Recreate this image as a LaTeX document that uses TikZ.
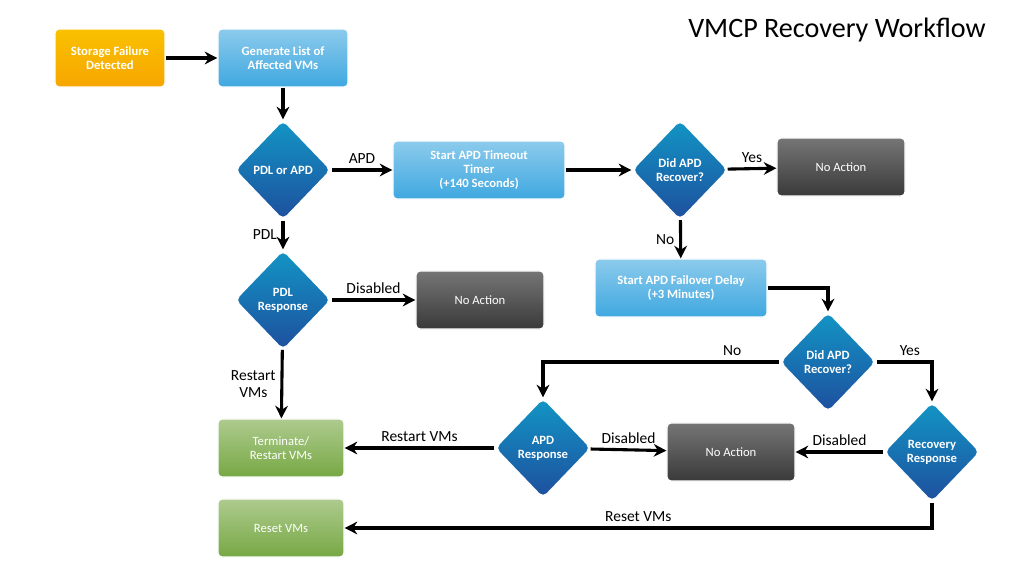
\documentclass[tikz,border=0pt]{standalone}
\usepackage{fontspec}
\setmainfont{Carlito}
\usetikzlibrary{shapes.geometric,arrows.meta,positioning}
\definecolor{orng}{HTML}{F7A600}
\definecolor{lblue}{HTML}{3FA8E0}
\definecolor{dblue}{HTML}{1E4F9E}
\definecolor{dgray}{HTML}{3A3A3A}
\definecolor{grn}{HTML}{77A843}
\tikzset{
	box/.style={rectangle,rounded corners=3pt,draw=white,line width=0.8pt,text=white,font=\bfseries\fontsize{9}{10}\selectfont,align=center,minimum height=1.45cm},
	start/.style={box,top color=orng!70!yellow,bottom color=orng,minimum width=2.75cm},
	task/.style={box,top color=lblue!60!white,bottom color=lblue,minimum width=3.25cm},
	wide/.style={task,minimum width=4.3cm},
	noact/.style={box,top color=dgray!70,bottom color=dgray,font=\fontsize{9}{10}\selectfont,minimum width=3.2cm},
	done/.style={box,top color=grn!60!white,bottom color=grn,font=\fontsize{9}{10}\selectfont,minimum width=3.15cm},
	dec/.style={diamond,rounded corners=4pt,draw=white,line width=0.8pt,top color=dblue!60!cyan,bottom color=dblue,text=white,font=\bfseries\fontsize{9}{10}\selectfont,align=center,minimum width=2.4cm,minimum height=2.5cm,inner sep=0pt},
	arr/.style={line width=2.2pt,-{Stealth[length=9pt,width=9pt]}},
	lbl/.style={font=\fontsize{11}{12}\selectfont,align=center}
}
\begin{document}
\begin{tikzpicture}[x=0.025cm,y=-0.025cm]
	\useasboundingbox (0,0) rectangle (1024,576);
	\node[font=\fontsize{20}{22}\selectfont] (title) at (837,30) {VMCP Recovery Workflow};
	% top row
	\node[start] (sfd) at (110,58) {Storage Failure\\Detected};
	\node[task] (gen) at (283,58) {Generate List of\\Affected VMs};
	\node[dec] (pdlapd) at (283,170) {PDL or APD};
	\node[wide] (timer) at (479,170) {Start APD Timeout\\Timer\\(+140 Seconds)};
	\node[dec] (did1) at (680,170) {Did APD\\Recover?};
	\node[noact] (na1) at (841,167) {No Action};
	% middle
	\node[dec] (pdlresp) at (283,300) {PDL\\Response};
	\node[noact] (na2) at (480,300) {No Action};
	\node[wide] (fail) at (681,288) {Start APD Failover Delay\\(+3 Minutes)};
	\node[dec] (did2) at (828,362) {Did APD\\Recover?};
	% bottom
	\node[done] (term) at (281,448) {Terminate/\\Restart VMs};
	\node[dec] (apdresp) at (543,448) {APD\\Response};
	\node[noact] (na3) at (731,452) {No Action};
	\node[dec] (recresp) at (932,452) {Recovery\\Response};
	\node[done] (reset) at (281,528) {Reset VMs};
	% connectors
	\draw[arr] (sfd) -- (gen);
	\draw[arr] (gen) -- (pdlapd);
	\draw[arr] (pdlapd) -- node[lbl,above]{APD} (timer);
	\draw[arr] (timer) -- (did1);
	\draw[arr] (did1) -- node[lbl,above]{Yes} (na1);
	\draw[arr] (did1) -- node[lbl,left]{No} (fail);
	\draw[arr] (pdlapd) -- node[lbl,left]{PDL} (pdlresp);
	\draw[arr] (pdlresp) -- node[lbl,above]{Disabled} (na2);
	\draw[arr] (pdlresp) -- node[lbl,left]{Restart\\VMs} (term);
	\draw[arr] (fail.east) -| (did2.north);
	\draw[arr] (did2.west) -| node[lbl,pos=0.1,above]{No} (apdresp.north);
	\draw[arr] (did2.east) -| node[lbl,pos=0.3,above]{Yes} (recresp.north);
	\draw[arr] (recresp) -- node[lbl,above]{Disabled} (na3);
	\draw[arr] (apdresp) -- node[lbl,above]{Disabled} (na3);
	\draw[arr] (apdresp) -- node[lbl,above]{Restart VMs} (term);
	\draw[arr] (recresp.south) |- node[lbl,pos=0.75,above]{Reset VMs} (reset.east);
\end{tikzpicture}
\end{document}
